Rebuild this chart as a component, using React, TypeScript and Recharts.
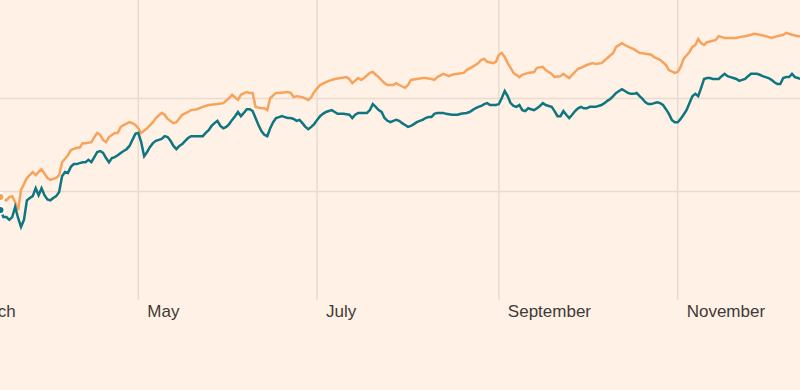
import React from 'react';
import { LineChart, Line, XAxis, YAxis, CartesianGrid } from 'recharts';

// x values: day of year; y values: index level
const monthTickDays = [60, 121, 182, 244, 305];
const monthLabels = ['March', 'May', 'July', 'September', 'November'];
const yGridValues = [100, 120];

const orangePoints: [number, number][] = [
  [74, 98.8], [76, 98.1], [77, 98.8], [78, 99.0], [79, 97.7], [80, 96.0], [81, 100.3], [83, 102.9], [85, 104.2], [86, 103.5],
  [87, 104.2], [88, 104.8], [90, 102.9], [91, 102.5], [93, 102.9], [94, 103.5], [95, 106.3], [97, 107.8], [98, 108.9], [100, 109.4],
  [101, 109.4], [102, 110.4], [103, 110.4], [105, 110.6], [106, 111.7], [107, 112.6], [108, 112.2], [109, 111.1], [110, 110.6], [111, 111.7],
  [113, 112.6], [114, 112.6], [115, 113.9], [116, 114.3], [118, 114.9], [119, 114.7], [120, 114.3], [121, 113.6], [122, 112.6], [124, 113.6],
  [126, 114.9], [127, 115.8], [129, 116.9], [130, 116.5], [131, 115.6], [133, 114.7], [134, 114.9], [136, 116.5], [138, 117.1], [139, 117.5],
  [141, 117.7], [143, 118.2], [145, 118.6], [148, 118.8], [150, 119.0], [152, 120.1], [153, 120.8], [155, 119.7], [156, 120.8], [158, 121.4],
  [159, 121.2], [160, 121.2], [161, 118.2], [163, 117.9], [164, 117.9], [165, 117.5], [166, 120.1], [168, 121.2], [169, 121.2], [172, 121.4],
  [173, 121.2], [174, 120.3], [175, 120.5], [177, 120.3], [179, 119.7], [180, 120.3], [181, 121.4], [183, 122.9], [185, 123.5], [186, 123.8],
  [188, 124.2], [190, 124.4], [192, 124.6], [193, 124.2], [194, 123.3], [196, 124.4], [197, 124.0], [198, 124.4], [200, 125.5], [201, 125.7],
  [202, 125.1], [203, 124.6], [205, 123.3], [206, 122.9], [208, 122.9], [209, 123.3], [210, 122.9], [212, 122.3], [213, 122.9], [214, 124.0],
  [216, 124.2], [218, 124.4], [219, 124.4], [221, 124.2], [222, 124.0], [223, 124.6], [225, 125.3], [227, 124.8], [228, 125.1], [230, 125.3],
  [232, 125.5], [233, 126.1], [235, 126.8], [237, 127.6], [238, 128.3], [239, 128.5], [240, 127.9], [242, 127.6], [243, 127.9], [244, 129.4],
  [245, 129.8], [246, 128.9], [247, 127.6], [248, 126.6], [249, 125.5], [251, 124.6], [252, 125.1], [253, 125.3], [254, 125.5], [256, 125.7],
  [257, 126.6], [259, 126.8], [260, 126.1], [262, 125.3], [263, 124.6], [265, 124.8], [266, 125.3], [267, 124.8], [268, 124.4], [269, 125.1],
  [271, 126.4], [272, 126.6], [274, 127.2], [276, 127.6], [277, 127.4], [279, 127.6], [281, 128.7], [283, 129.8], [284, 131.1], [286, 131.9],
  [287, 131.5], [289, 130.9], [290, 130.6], [292, 129.8], [294, 129.6], [296, 129.4], [297, 128.9], [299, 128.3], [301, 127.2], [302, 126.1],
  [304, 125.5], [305, 125.7], [306, 126.8], [307, 128.5], [309, 130.0], [310, 131.1], [311, 131.5], [312, 132.8], [313, 131.9], [314, 131.5],
  [315, 132.1], [317, 132.4], [318, 132.6], [319, 133.4], [321, 133.0], [323, 133.0], [325, 133.0], [326, 133.2], [328, 133.4], [330, 133.7],
  [331, 133.9], [333, 133.7], [335, 133.4], [337, 133.0], [339, 133.4], [341, 133.7], [342, 134.1], [344, 133.7], [346, 133.4], [347, 133.4],
];

const tealPoints: [number, number][] = [
  [74, 96.0], [75, 94.5], [76, 94.5], [77, 93.9], [78, 94.5], [79, 96.7], [80, 94.3], [81, 92.4], [82, 93.9], [83, 98.1],
  [84, 98.6], [85, 99.0], [86, 100.7], [87, 99.2], [88, 100.7], [89, 99.2], [90, 98.3], [91, 98.1], [92, 98.6], [93, 99.0],
  [94, 99.9], [95, 103.3], [96, 104.2], [97, 104.0], [98, 105.3], [99, 105.9], [100, 105.9], [101, 106.1], [102, 106.3], [103, 106.3],
  [104, 106.8], [105, 106.3], [106, 107.4], [107, 108.5], [108, 108.7], [109, 108.3], [110, 107.2], [111, 106.3], [112, 107.2], [113, 107.4],
  [114, 107.8], [115, 108.3], [116, 108.7], [117, 109.1], [118, 109.8], [119, 111.1], [120, 112.4], [121, 112.6], [122, 110.6], [123, 107.6],
  [124, 108.5], [125, 109.6], [126, 110.4], [127, 110.9], [128, 111.1], [129, 111.3], [130, 111.9], [131, 111.7], [132, 110.9], [133, 109.8],
  [134, 109.1], [135, 109.8], [136, 110.2], [137, 110.9], [138, 111.5], [139, 111.9], [141, 111.9], [143, 111.9], [144, 112.6], [145, 113.2],
  [146, 114.1], [147, 114.7], [148, 115.2], [149, 114.1], [150, 113.6], [151, 113.9], [152, 114.5], [153, 115.4], [154, 116.2], [155, 117.1],
  [156, 116.2], [157, 116.9], [158, 117.7], [159, 117.7], [160, 117.3], [161, 115.8], [162, 114.3], [163, 113.0], [164, 112.2], [165, 111.9],
  [166, 113.6], [167, 114.9], [168, 115.8], [169, 116.0], [170, 116.2], [171, 116.0], [172, 115.8], [173, 115.8], [174, 115.6], [175, 115.2],
  [176, 115.4], [177, 114.7], [178, 113.9], [179, 113.4], [180, 113.9], [181, 114.5], [182, 115.4], [183, 116.2], [184, 116.7], [185, 117.1],
  [186, 117.3], [187, 117.5], [188, 117.1], [189, 116.7], [191, 116.7], [193, 116.5], [194, 115.8], [195, 116.5], [196, 116.9], [198, 116.9],
  [199, 116.9], [200, 117.5], [201, 118.8], [202, 118.2], [203, 117.5], [204, 117.1], [205, 115.8], [206, 115.2], [207, 114.9], [208, 115.2],
  [209, 115.4], [210, 115.2], [211, 114.7], [212, 114.3], [213, 113.9], [214, 114.1], [215, 114.5], [216, 114.9], [217, 115.2], [218, 115.4],
  [219, 115.8], [220, 116.0], [221, 116.0], [222, 116.7], [223, 116.9], [225, 116.9], [226, 116.7], [228, 116.5], [230, 116.5], [231, 116.7],
  [233, 116.9], [234, 117.1], [235, 117.5], [236, 117.9], [237, 118.2], [238, 118.4], [239, 118.8], [240, 119.0], [241, 118.6], [242, 118.6],
  [243, 118.6], [244, 118.8], [245, 120.1], [246, 121.6], [247, 120.5], [248, 119.0], [249, 118.4], [250, 118.2], [251, 118.6], [252, 117.5],
  [253, 117.3], [254, 117.9], [255, 117.7], [256, 117.5], [257, 117.9], [258, 118.4], [259, 119.0], [260, 118.6], [261, 118.4], [262, 118.2],
  [263, 117.3], [264, 116.2], [265, 116.2], [266, 117.3], [267, 116.5], [268, 115.8], [269, 116.5], [270, 117.3], [271, 117.9], [272, 118.2],
  [273, 117.9], [274, 117.9], [275, 118.2], [277, 118.2], [279, 118.6], [280, 119.0], [281, 119.5], [282, 119.9], [283, 120.5], [284, 121.2],
  [285, 121.6], [286, 122.0], [287, 121.6], [288, 121.2], [289, 121.0], [290, 121.0], [291, 121.2], [292, 120.5], [293, 119.9], [294, 119.2],
  [295, 118.8], [296, 118.8], [297, 119.0], [298, 119.2], [299, 119.0], [300, 118.6], [301, 117.7], [302, 116.7], [303, 115.4], [304, 114.9],
  [305, 114.9], [306, 115.6], [307, 116.5], [308, 117.5], [309, 119.0], [310, 120.5], [311, 121.0], [312, 120.5], [313, 122.3], [314, 124.2],
  [315, 124.4], [316, 124.4], [317, 124.2], [318, 124.2], [319, 124.2], [320, 124.8], [321, 125.3], [322, 124.8], [323, 124.6], [324, 124.4],
  [325, 124.2], [326, 123.8], [327, 124.0], [328, 124.2], [329, 124.8], [330, 125.3], [331, 125.3], [332, 125.3], [333, 125.1], [334, 124.8],
  [335, 124.6], [336, 124.4], [337, 124.0], [338, 123.5], [339, 123.1], [340, 123.1], [341, 124.4], [342, 124.6], [343, 124.6], [344, 125.3],
  [345, 124.6], [346, 124.4], [347, 124.2],
];

const orangeData = orangePoints.map(([day, value]) => ({ day, value }));
const tealData = tealPoints.map(([day, value]) => ({ day, value }));

const X_DOMAIN: [number, number] = [53.36, 346.72];
const Y_DOMAIN: [number, number] = [76.67, 141.18];

const MonthTick = (props: any) => {
  const { x, y, payload } = props;
  const i = monthTickDays.indexOf(payload.value);
  return (
    <text
      x={x + 9}
      y={y + 17}
      textAnchor="start"
      fill="#3f3a37"
      fontSize={17}
      fontFamily="'Liberation Sans', Arial, sans-serif"
    >
      {monthLabels[i]}
    </text>
  );
};

export default function App() {
  return (
    <div
      style={{
        position: 'fixed',
        left: 0,
        top: 0,
        width: 800,
        height: 390,
        overflow: 'hidden',
        background: '#FFF1E5',
      }}
    >
      <div style={{ position: 'absolute', left: -60, top: 0 }}>
        <LineChart width={860} height={390} margin={{ top: 0, right: 0, bottom: 0, left: 0 }}>
          <CartesianGrid
            stroke="#E8DCD0"
            strokeWidth={1.5}
            horizontalValues={yGridValues}
            verticalValues={monthTickDays}
          />
          <XAxis
            dataKey="day"
            type="number"
            domain={X_DOMAIN}
            allowDataOverflow
            ticks={monthTickDays}
            tick={MonthTick}
            tickLine={false}
            axisLine={false}
            tickSize={0}
            tickMargin={0}
            height={90}
            interval={0}
          />
          <YAxis type="number" domain={Y_DOMAIN} allowDataOverflow ticks={yGridValues} hide />
          <Line
            data={orangeData}
            dataKey="value"
            type="linear"
            stroke="#F7A35C"
            strokeWidth={2.5}
            dot={false}
            isAnimationActive={false}
          />
          <Line
            data={tealData}
            dataKey="value"
            type="linear"
            stroke="#0D7680"
            strokeWidth={2.5}
            dot={false}
            isAnimationActive={false}
          />
        </LineChart>
      </div>
    </div>
  );
}
